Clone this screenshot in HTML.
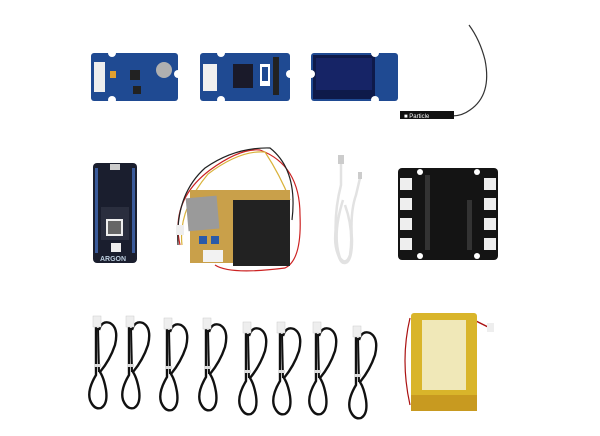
<!DOCTYPE html>
<html><head><style>html,body{margin:0;padding:0;background:#fff;width:600px;height:436px;overflow:hidden}</style></head>
<body>
<svg width="600" height="436" xmlns="http://www.w3.org/2000/svg" font-family="Liberation Sans, sans-serif">
<defs>
<g id="cab">
<path d="M0 6 L0 55 Q-9 70 -6 80 Q-2 90 5 88 Q12 84 10 70 Q8 58 4 52 Q14 40 19 25 Q23 8 14 3 Q6 0 3 10" stroke="#111" stroke-width="2.4" fill="none"/>
<path d="M2 8 L3 52" stroke="#111" stroke-width="2" fill="none"/>
<rect x="-3" y="-4" width="8" height="11" fill="#eee" stroke="#ccc" stroke-width="0.5"/>
<rect x="-2" y="44" width="7" height="3" fill="#ddd"/>
</g>
</defs>
<!-- Row 1 boards -->
<g>
<rect x="91" y="53" width="87" height="48" rx="3" fill="#1f4a92"/>
<rect x="94" y="62" width="11" height="30" fill="#eee"/>
<rect x="110" y="71" width="6" height="7" fill="#e0a030"/>
<rect x="130" y="70" width="10" height="10" fill="#222"/>
<rect x="133" y="86" width="8" height="8" fill="#222"/>
<circle cx="164" cy="70" r="8" fill="#b0b0b0"/>
<circle cx="112" cy="53" r="4" fill="#fff"/><circle cx="112" cy="100" r="4" fill="#fff"/><circle cx="178" cy="74" r="4" fill="#fff"/>
</g>
<g>
<rect x="200" y="53" width="90" height="48" rx="3" fill="#1f4a92"/>
<rect x="203" y="64" width="14" height="27" fill="#f0f0f0"/>
<rect x="233" y="64" width="20" height="24" fill="#1a1a2a"/>
<rect x="260" y="64" width="10" height="22" fill="#fff"/><rect x="262" y="67" width="6" height="14" fill="#1f4a92"/>
<rect x="273" y="57" width="6" height="38" fill="#222"/>
<circle cx="221" cy="53" r="4" fill="#fff"/><circle cx="221" cy="100" r="4" fill="#fff"/><circle cx="290" cy="74" r="4" fill="#fff"/>
</g>
<g>
<rect x="311" y="53" width="87" height="48" rx="3" fill="#1f4a92"/>
<rect x="313" y="55" width="62" height="44" fill="#0e1a4a"/>
<rect x="316" y="58" width="56" height="32" fill="#162466"/>
<circle cx="375" cy="53" r="4" fill="#fff"/><circle cx="375" cy="100" r="4" fill="#fff"/><circle cx="311" cy="74" r="4" fill="#fff"/>
</g>
<path d="M469 25 Q480 40 485 60 Q492 95 470 110 Q462 116 452 116" stroke="#333" stroke-width="1.2" fill="none"/>
<rect x="400" y="111" width="54" height="8" fill="#111"/>
<text x="404" y="118" font-size="6" fill="#fff">■ Particle</text>

<!-- Argon -->
<rect x="93" y="163" width="44" height="100" rx="4" fill="#1a1e2e"/>
<rect x="95" y="168" width="3" height="85" fill="#3a5a9a"/><rect x="132" y="168" width="3" height="85" fill="#3a5a9a"/>
<rect x="110" y="164" width="10" height="6" fill="#ccc"/>
<rect x="101" y="207" width="28" height="33" fill="#2a2e3e"/>
<rect x="106" y="219" width="17" height="17" fill="#eee"/>
<rect x="108" y="221" width="13" height="13" fill="#666"/>
<rect x="111" y="243" width="10" height="9" fill="#eee"/>
<text x="100" y="261" font-size="7" fill="#bcd" font-weight="bold">ARGON</text>

<!-- Dust sensor -->
<path d="M180 245 Q170 200 210 170 Q240 148 260 150 Q300 165 300 215 Q302 260 285 268 Q230 275 215 265" stroke="#c22" stroke-width="1.2" fill="none"/>
<path d="M178 245 Q175 195 205 168 Q235 147 270 148 Q298 170 292 220" stroke="#222" stroke-width="1.2" fill="none"/>
<path d="M182 245 Q178 210 208 174 Q240 150 265 152 Q280 175 290 200" stroke="#d9b23a" stroke-width="1.2" fill="none"/>
<rect x="176" y="225" width="8" height="10" fill="#eee"/>
<rect x="190" y="190" width="100" height="73" fill="#c9a04a"/>
<rect x="233" y="200" width="57" height="66" fill="#222"/>
<rect x="187" y="197" width="31" height="33" fill="#9a9a9a" transform="rotate(-5 202 213)"/>
<rect x="199" y="236" width="8" height="8" fill="#2a5aa8"/><rect x="211" y="236" width="8" height="8" fill="#2a5aa8"/>
<rect x="203" y="250" width="20" height="12" fill="#f2f2f2"/>

<!-- USB cable -->
<g stroke="#e2e2e2" stroke-width="2.5" fill="none">
<path d="M341 162 L341 185 Q334 212 336 240 Q338 264 345 263 Q352 262 352 240 Q350 212 356 195 L360 178"/>
<path d="M343 200 Q332 235 340 258 Q346 266 350 255 Q354 230 345 205"/>
<path d="M339 215 Q330 245 342 262"/>
</g>
<rect x="338" y="155" width="6" height="9" fill="#ccc"/>
<rect x="358" y="172" width="4" height="7" fill="#ccc"/>

<!-- Shield -->
<rect x="398" y="168" width="100" height="92" rx="4" fill="#141414"/>
<rect x="400" y="178" width="12" height="12" fill="#eee"/><rect x="400" y="198" width="12" height="12" fill="#eee"/><rect x="400" y="218" width="12" height="12" fill="#eee"/><rect x="400" y="238" width="12" height="12" fill="#eee"/>
<rect x="484" y="178" width="12" height="12" fill="#eee"/><rect x="484" y="198" width="12" height="12" fill="#eee"/><rect x="484" y="218" width="12" height="12" fill="#eee"/><rect x="484" y="238" width="12" height="12" fill="#eee"/>
<rect x="425" y="175" width="5" height="75" fill="#333"/><rect x="467" y="200" width="5" height="50" fill="#333"/>
<circle cx="420" cy="172" r="3" fill="#fff"/><circle cx="477" cy="172" r="3" fill="#fff"/><circle cx="420" cy="256" r="3" fill="#fff"/><circle cx="477" cy="256" r="3" fill="#fff"/>

<!-- Grove cables -->
<use href="#cab" x="96" y="320"/>
<use href="#cab" x="129" y="320"/>
<use href="#cab" x="167" y="322"/>
<use href="#cab" x="206" y="322"/>
<use href="#cab" x="246" y="326"/>
<use href="#cab" x="280" y="326"/>
<use href="#cab" x="316" y="326"/>
<use href="#cab" x="356" y="330"/>

<!-- Battery -->
<path d="M410 318 Q400 360 410 405" stroke="#a11" stroke-width="1.2" fill="none"/>
<path d="M470 318 L490 328" stroke="#a11" stroke-width="1.5"/>
<rect x="487" y="323" width="7" height="9" fill="#eee"/>
<rect x="411" y="313" width="66" height="98" rx="3" fill="#d9b52a"/>
<rect x="422" y="320" width="44" height="70" fill="#f0e8b8"/>
<rect x="411" y="395" width="66" height="16" fill="#c89a20"/>
</svg>
</body></html>
